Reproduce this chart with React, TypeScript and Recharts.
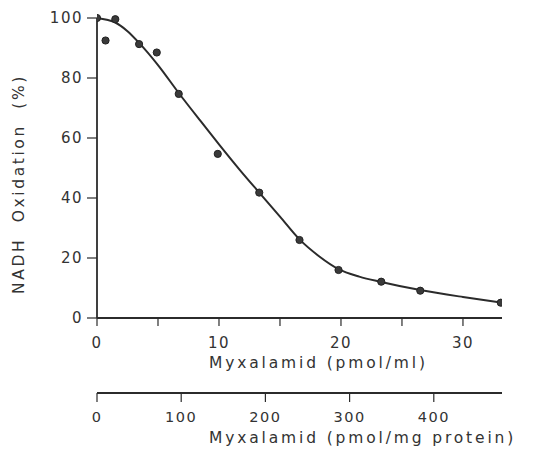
import { ComposedChart, Line, Scatter, XAxis, YAxis } from "recharts";

// measured points: Myxalamid (pmol/ml) vs NADH oxidation (%)
const conc = [0, 0.7, 1.5, 3.45, 4.9, 6.7, 9.9, 13.3, 16.6, 19.8, 23.3, 26.5, 33.1];
const oxidation = [100, 92.5, 99.6, 91.3, 88.5, 74.7, 54.7, 41.8, 26, 16, 12.1, 9.1, 5.1];

// hand-drawn fit curve
const fitConc = [0, 0.8, 1.5, 2.5, 3.45, 5, 6.7, 8.5, 10, 11.7, 13.3, 15, 16.6, 18.2, 19.8, 21.5, 23.3, 26.5, 30, 33.1];
const fitValue = [100, 99.4, 98.5, 95.6, 91.7, 84.3, 75, 65.6, 57.9, 49.4, 41.8, 33.8, 26.2, 20.6, 16.3, 13.8, 12, 9.3, 7, 5.2];

// second scale (pmol/mg protein) only carries ticks
const mgTicks = [0, 100, 200, 300, 400];
const mlTicks = [0, 5, 10, 15, 20, 25, 30];
const yTicks = [0, 20, 40, 60, 80, 100];

const points = conc.map((x, i) => ({ x, y: oxidation[i] }));
const curve = fitConc.map((x, i) => ({ x, y: fitValue[i] }));
const mgAnchor = mgTicks.map((x) => ({ x, y: null }));

const ink = "#2b2b2b";
const font = { fontFamily: "DejaVu Sans", fontSize: 15, fill: "#333", letterSpacing: 1.5 };
const titleFont = { ...font, fontSize: 15.5, letterSpacing: 2.85 };

const Title = ({ tx, ty, rotate, txt }: any) => (
  <text
    x={tx}
    y={ty}
    transform={rotate ? `rotate(-90 ${tx} ${ty})` : undefined}
    textAnchor={rotate ? "middle" : "start"}
    style={rotate ? { ...titleFont, letterSpacing: 2.6, wordSpacing: 8 } : titleFont}
  >
    {txt}
  </text>
);

const Dot = (props: any) => (
  <circle cx={props.cx} cy={props.cy} r={3.6} fill="#3a3a3a" stroke="#222" strokeWidth={1} />
);

export default function App() {
  return (
    <div style={{ width: 539, height: 451, background: "#fff" }}>
      <style>{"body{margin:0}"}</style>
      <ComposedChart width={539} height={451} margin={{ top: 18, right: 37, bottom: 0, left: 0 }}>
        <XAxis
          xAxisId="a"
          type="number"
          dataKey="x"
          domain={[0, 33.2]}
          ticks={mlTicks}
          tickFormatter={(v: number) => (v % 10 === 0 ? String(v) : "")}
          allowDataOverflow
          height={75}
          tickSize={8}
          tickMargin={11}
          tick={font}
          axisLine={{ stroke: ink, strokeWidth: 1.8 }}
          tickLine={{ stroke: ink, strokeWidth: 1.2 }}
          label={<Title tx={209} ty={368} txt="Myxalamid (pmol/ml)" />}
        />
        <XAxis
          xAxisId="b"
          type="number"
          dataKey="x"
          domain={[0, 481]}
          ticks={mgTicks}
          allowDataOverflow
          height={58}
          tickSize={9}
          tickMargin={10}
          tick={{ ...font, fontSize: 14.5 }}
          axisLine={{ stroke: ink, strokeWidth: 1.8 }}
          tickLine={{ stroke: ink, strokeWidth: 1.2 }}
          label={<Title tx={209} ty={443} txt="Myxalamid (pmol/mg protein)" />}
        />
        <YAxis
          type="number"
          dataKey="y"
          domain={[0, 100]}
          ticks={yTicks}
          width={97}
          tickSize={10}
          tickMargin={4}
          tick={font}
          axisLine={{ stroke: ink, strokeWidth: 1.8 }}
          tickLine={{ stroke: ink, strokeWidth: 1.2 }}
          label={<Title tx={24} ty={184} rotate txt="NADH Oxidation (%)" />}
        />
        <Line
          xAxisId="b"
          data={mgAnchor}
          dataKey="y"
          stroke="none"
          dot={false}
          activeDot={false}
          legendType="none"
          isAnimationActive={false}
        />
        <Line
          xAxisId="a"
          data={curve}
          dataKey="y"
          type="monotone"
          stroke={ink}
          strokeWidth={2}
          dot={false}
          activeDot={false}
          isAnimationActive={false}
        />
        <Scatter xAxisId="a" data={points} dataKey="y" shape={<Dot />} isAnimationActive={false} />
      </ComposedChart>
    </div>
  );
}
